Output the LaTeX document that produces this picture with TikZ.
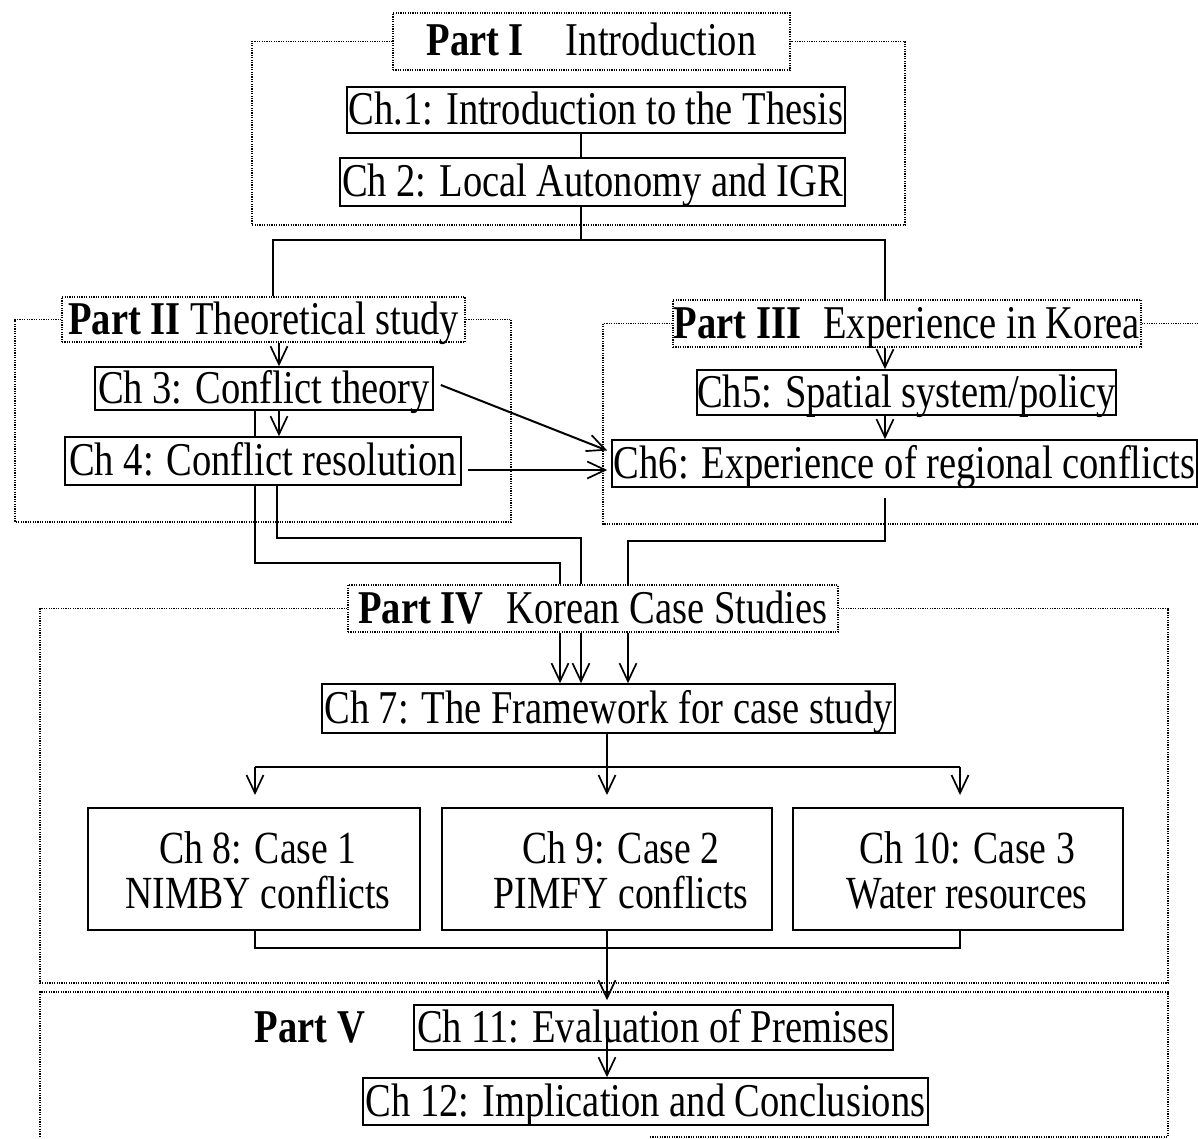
\documentclass[tikz,border=0pt]{standalone}
\usepackage{fontspec}
\setmainfont{Liberation Serif}[FakeStretch=0.82]
\usetikzlibrary{arrows.meta,calc}
\begin{document}
\begin{tikzpicture}[x=1pt,y=-1pt,
  every node/.style={font=\fontsize{47}{52}\selectfont, inner sep=0pt},
  chbox/.style={draw, line width=1.6pt, text height=35pt, text depth=6pt},
  casebox/.style={draw, line width=2pt, minimum height=122pt},
  casetext/.style={align=center, font=\fontsize{46}{45}\selectfont},
  hdrbox/.style={draw, line width=1.4pt, dash pattern=on 1.2pt off 1.2pt, text height=35pt, text depth=6pt},
  plain/.style={text height=35pt, text depth=6pt},
  frame/.style={line width=1.3pt, dash pattern=on 1.2pt off 1.2pt},
  conn/.style={line width=2pt},
  arr/.style={conn, -{Straight Barb[length=18pt,width=17pt,line width=1.7pt]}}]
\useasboundingbox (0,0) rectangle (1198,1139);

% ---------- nodes ----------
\node[hdrbox, minimum width=397pt, minimum height=57pt] (p1) at (591.5,41.5) {\textbf{Part I}\hspace{42pt}Introduction};
\node[chbox, minimum width=498pt, minimum height=46pt] (ch1) at (596,110) {Ch.1: Introduction to the Thesis};
\node[chbox, minimum width=505pt, minimum height=48pt] (ch2) at (592.5,182) {Ch 2: Local Autonomy and IGR};

\node[hdrbox, minimum width=403pt, minimum height=45pt] (p2) at (263.5,319.5) {\textbf{Part II} Theoretical study};
\node[chbox, minimum width=338pt, minimum height=43pt] (ch3) at (264,388.5) {Ch 3: Conflict theory};
\node[chbox, minimum width=396pt, minimum height=48pt] (ch4) at (263,461) {Ch 4: Conflict resolution};

\node[hdrbox, minimum width=468pt, minimum height=47pt] (p3) at (907,323.5) {\textbf{Part III}\hspace{22pt}Experience in Korea};
\node[chbox, minimum width=419pt, minimum height=45pt] (ch5) at (906.5,392.5) {Ch5: Spatial system/policy};
\node[chbox, minimum width=585pt, minimum height=47pt] (ch6) at (904.5,463.5) {Ch6: Experience of regional conflicts};

\node[hdrbox, minimum width=490pt, minimum height=47pt] (p4) at (593,608.5) {\textbf{Part IV}\hspace{23pt}Korean Case Studies};
\node[chbox, minimum width=573pt, minimum height=49pt] (ch7) at (608.5,708.5) {Ch 7: The Framework for case study};

\node[casebox, minimum width=332pt] (ch8) at (254,869) {};
\node[casebox, minimum width=330pt] (ch9) at (607,869) {};
\node[casebox, minimum width=330pt] (ch10) at (958,869) {};
\node[casetext] (t8) at (258,870) {Ch 8: Case 1\\NIMBY conflicts};
\node[casetext] (t9) at (621,870) {Ch 9: Case 2\\PIMFY conflicts};
\node[casetext] (t10) at (967,870) {Ch 10: Case 3\\Water resources};

\node[plain] (p5) at (310,1027.5) {\textbf{Part V}};
\node[chbox, minimum width=479pt, minimum height=45pt] (ch11) at (653.5,1027.5) {Ch 11: Evaluation of Premises};
\node[chbox, minimum width=565pt, minimum height=47pt] (ch12) at (645.5,1101.5) {Ch 12: Implication and Conclusions};

% ---------- part frames ----------
\draw[frame] (p1.west) -| (252,225) -| (905,41.5) -- (p1.east);
\draw[frame] (p2.west) -| (15,522) -| (511,319.5) -- (p2.east);
\draw[frame] (p3.west) -| (603,524) -- (1198,524);
\draw[frame] (p3.east) -- (1198,323.5);
\draw[frame] (p4.west) -| (40,983) -| (1168,608.5) -- (p4.east);
\draw[frame] (40,1137) |- (1168,992) -- (1168,1137);
\draw[frame] (650,1137) -- (1168,1137);

% ---------- column coordinates ----------
\coordinate (c581) at (581,0);
\coordinate (c273) at (273,0);
\coordinate (c885) at (885,0);
\coordinate (c279) at (279,0);
\coordinate (c255) at (255,0);
\coordinate (c277) at (277,0);
\coordinate (c560) at (560,0);
\coordinate (c580) at (581,0);
\coordinate (c628) at (628,0);
\coordinate (c607) at (607,0);
\coordinate (c960) at (960,0);
\coordinate (j1) at (581,240);
\coordinate (b1) at (560,563);
\coordinate (b2) at (581,538);
\coordinate (b3) at (628,541);
\coordinate (j2) at (607,767);
\coordinate (j3) at (607,948);

% ---------- connectors ----------
\draw[conn] (ch1.south -| c581) -- (ch2.north -| c581);
\draw[conn] (ch2.south -| c581) -- (j1);
\draw[conn] (j1) -| (p2.north -| c273);
\draw[conn] (j1) -| (p3.north -| c885);

\draw[arr] (p2.south -| c279) -- (ch3.north -| c279);
\draw[arr] (ch3.south -| c279) -- (ch4.north -| c279);
\draw[conn] (ch3.south -| c255) -- (ch4.north -| c255);
\draw[conn] (ch4.south -| c255) |- (b1) -- (p4.north -| c560);
\draw[conn] (ch4.south -| c277) |- (b2) -- (p4.north -| c580);

\draw[arr] (p3.south -| c885) -- (ch5.north -| c885);
\draw[arr] (ch5.south -| c885) -- (ch6.north -| c885);
\draw[conn, shorten <=10pt] (ch6.south -| c885) |- (b3) -- (p4.north -| c628);

\draw[arr] ($(ch3.east)+(7,-3.5)$) -- ($(ch6.west)+(-4,-13)$);
\draw[arr] ($(ch4.east)+(6,9)$) -- ($(ch6.west)+(-4,6.5)$);

\draw[arr] (p4.south -| c560) -- (ch7.north -| c560);
\draw[arr] (p4.south -| c580) -- (ch7.north -| c580);
\draw[arr] (p4.south -| c628) -- (ch7.north -| c628);

\draw[conn] (ch7.south -| c607) -- (j2);
\draw[conn] (j2 -| c255) -- (j2 -| c960);
\draw[arr, shorten >=12pt] (j2 -| c255) -- (ch8.north -| c255);
\draw[arr, shorten >=12pt] (j2) -- (ch9.north -| c607);
\draw[arr, shorten >=12pt] (j2 -| c960) -- (ch10.north -| c960);

\draw[conn] (ch8.south -| c255) -- (j3 -| c255) -- (j3 -| c960) -- (ch10.south -| c960);
\draw[arr, shorten >=4pt] (ch9.south -| c607) -- (ch11.north -| c607);
\draw[arr, shorten <=-14pt] (ch11.south -| c607) -- (ch12.north -| c607);
\end{tikzpicture}
\end{document}
